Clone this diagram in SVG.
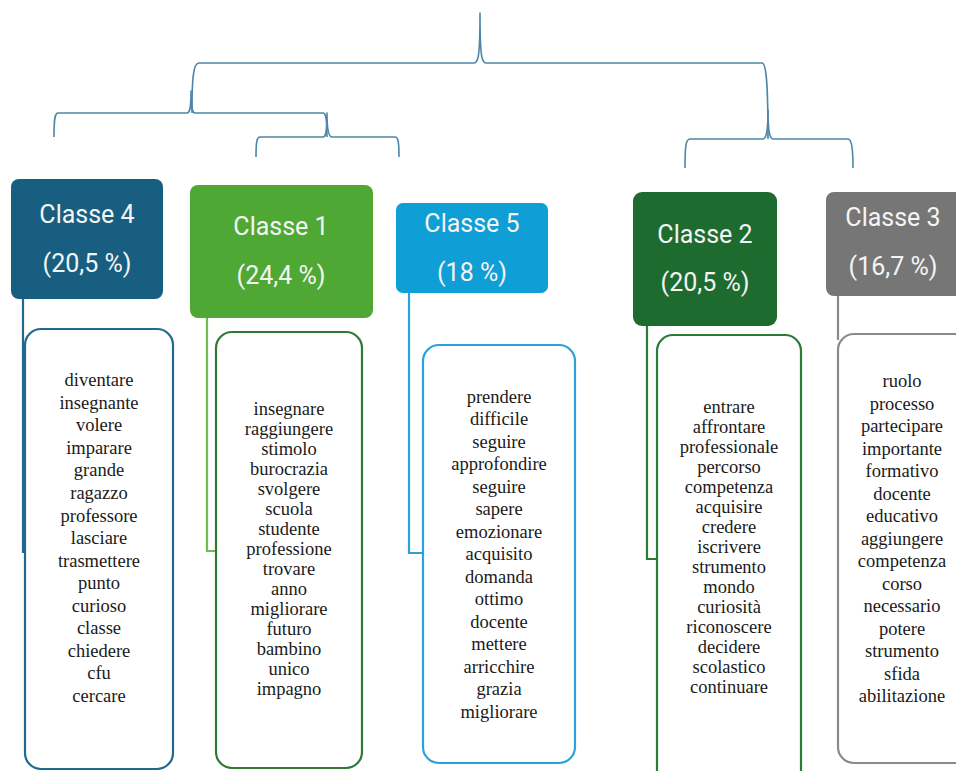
<svg xmlns="http://www.w3.org/2000/svg" width="956" height="771" viewBox="0 0 956 771">
  <style>
    .brace { fill: none; stroke: #4d86a6; stroke-width: 1.6; stroke-linejoin: round; }
    .head text { font-family: Roboto, "Liberation Sans", sans-serif; font-size: 25px; fill: #f4f4f4; text-anchor: middle; }
    .words { fill: #ffffff; stroke-width: 2.2; }
    .list text { font-family: "Liberation Serif", "Times New Roman", serif; font-size: 18.5px; fill: #1a1a1a; text-anchor: middle; }
    .link { fill: none; stroke-width: 2.2; }
  </style>

  <rect width="956" height="771" fill="#ffffff"/>

  <!-- dendrogram braces -->
  <g id="connectors">
    <path class="brace" d="M192,113 C192,80 193,63 199,63 L474,63 C478,63 480,58 480,13 C480,58 482,63 486,63 L762,63 C766,63 768,80 768,139"/>
    <path class="brace" d="M54,137 C54,118 55,113 58,113 L187,113 C190,113 191,108 191,91 C191,108 192,113 195,113 L323,113 C326,113 327,118 327,137"/>
    <path class="brace" d="M256,157 C256,141 257,137 260,137 L323,137 C326,137 327,132 327,113 C327,132 329,137 332,137 L395,137 C398,137 399,141 399,157"/>
    <path class="brace" d="M685,168 C685,145 686,139 690,139 L763,139 C766,139 768,133 768,110 C768,133 770,139 773,139 L848,139 C851,139 853,145 853,168"/>

    <!-- header-to-list links -->
    <path class="link" stroke="#1f6a8e" d="M23,299 V552 H26"/>
    <path class="link" stroke="#6cbd4c" d="M207,318 V551 H216"/>
    <path class="link" stroke="#29a3dc" d="M409,293 V553 H423"/>
    <path class="link" stroke="#2b7a35" d="M647,326 V559 H657"/>
    <path class="link" stroke="#8a8a8a" d="M838,296 V340"/>
  </g>

  <!-- Classe 4 -->
  <g id="classe4">
    <g class="head">
      <rect x="11" y="179" width="152" height="120" rx="8" fill="#185e80"/>
      <text x="87" y="223">Classe 4</text>
      <text x="87" y="272">(20,5 %)</text>
    </g>
    <rect class="words" stroke="#1f6a8e" x="25" y="329" width="148" height="440" rx="16"/>
    <g class="list">
      <text x="99" y="386">diventare</text>
      <text x="99" y="409">insegnante</text>
      <text x="99" y="431">volere</text>
      <text x="99" y="454">imparare</text>
      <text x="99" y="476">grande</text>
      <text x="99" y="499">ragazzo</text>
      <text x="99" y="522">professore</text>
      <text x="99" y="544">lasciare</text>
      <text x="99" y="567">trasmettere</text>
      <text x="99" y="589">punto</text>
      <text x="99" y="612">curioso</text>
      <text x="99" y="634">classe</text>
      <text x="99" y="657">chiedere</text>
      <text x="99" y="679">cfu</text>
      <text x="99" y="702">cercare</text>
    </g>
  </g>

  <!-- Classe 1 -->
  <g id="classe1">
    <g class="head">
      <rect x="190" y="185" width="183" height="133" rx="8" fill="#50a834"/>
      <text x="281" y="235">Classe 1</text>
      <text x="281" y="284">(24,4 %)</text>
    </g>
    <rect class="words" stroke="#2e7a34" x="216" y="332" width="146" height="436" rx="16"/>
    <g class="list">
      <text x="289" y="415">insegnare</text>
      <text x="289" y="435">raggiungere</text>
      <text x="289" y="455">stimolo</text>
      <text x="289" y="475">burocrazia</text>
      <text x="289" y="495">svolgere</text>
      <text x="289" y="515">scuola</text>
      <text x="289" y="535">studente</text>
      <text x="289" y="555">professione</text>
      <text x="289" y="575">trovare</text>
      <text x="289" y="595">anno</text>
      <text x="289" y="615">migliorare</text>
      <text x="289" y="635">futuro</text>
      <text x="289" y="655">bambino</text>
      <text x="289" y="675">unico</text>
      <text x="289" y="695">impagno</text>
    </g>
  </g>

  <!-- Classe 5 -->
  <g id="classe5">
    <g class="head">
      <rect x="396" y="203" width="152" height="90" rx="7" fill="#0f9ed5"/>
      <text x="472" y="232">Classe 5</text>
      <text x="472" y="281">(18 %)</text>
    </g>
    <rect class="words" stroke="#29a3dc" x="423" y="345" width="152" height="418" rx="16"/>
    <g class="list">
      <text x="499" y="403">prendere</text>
      <text x="499" y="425">difficile</text>
      <text x="499" y="448">seguire</text>
      <text x="499" y="470">approfondire</text>
      <text x="499" y="493">seguire</text>
      <text x="499" y="515">sapere</text>
      <text x="499" y="538">emozionare</text>
      <text x="499" y="560">acquisito</text>
      <text x="499" y="583">domanda</text>
      <text x="499" y="605">ottimo</text>
      <text x="499" y="628">docente</text>
      <text x="499" y="650">mettere</text>
      <text x="499" y="673">arricchire</text>
      <text x="499" y="695">grazia</text>
      <text x="499" y="718">migliorare</text>
    </g>
  </g>

  <!-- Classe 2 -->
  <g id="classe2">
    <g class="head">
      <rect x="633" y="192" width="144" height="134" rx="9" fill="#1e6b2f"/>
      <text x="705" y="243">Classe 2</text>
      <text x="705" y="291">(20,5 %)</text>
    </g>
    <rect class="words" stroke="#2b7a35" x="657" y="335" width="144" height="460" rx="16"/>
    <g class="list">
      <text x="729" y="413">entrare</text>
      <text x="729" y="433">affrontare</text>
      <text x="729" y="453">professionale</text>
      <text x="729" y="473">percorso</text>
      <text x="729" y="493">competenza</text>
      <text x="729" y="513">acquisire</text>
      <text x="729" y="533">credere</text>
      <text x="729" y="553">iscrivere</text>
      <text x="729" y="573">strumento</text>
      <text x="729" y="593">mondo</text>
      <text x="729" y="613">curiosità</text>
      <text x="729" y="633">riconoscere</text>
      <text x="729" y="653">decidere</text>
      <text x="729" y="673">scolastico</text>
      <text x="729" y="693">continuare</text>
    </g>
  </g>

  <!-- Classe 3 -->
  <g id="classe3">
    <g class="head">
      <rect x="826" y="192" width="150" height="104" rx="8" fill="#767676"/>
      <text x="893" y="226">Classe 3</text>
      <text x="893" y="275">(16,7 %)</text>
    </g>
    <rect class="words" stroke="#8a8a8a" x="838" y="334" width="140" height="429" rx="16"/>
    <g class="list">
      <text x="902" y="387">ruolo</text>
      <text x="902" y="410">processo</text>
      <text x="902" y="432">partecipare</text>
      <text x="902" y="455">importante</text>
      <text x="902" y="477">formativo</text>
      <text x="902" y="500">docente</text>
      <text x="902" y="522">educativo</text>
      <text x="902" y="545">aggiungere</text>
      <text x="902" y="567">competenza</text>
      <text x="902" y="590">corso</text>
      <text x="902" y="612">necessario</text>
      <text x="902" y="635">potere</text>
      <text x="902" y="657">strumento</text>
      <text x="902" y="680">sfida</text>
      <text x="902" y="702">abilitazione</text>
    </g>
  </g>
</svg>
